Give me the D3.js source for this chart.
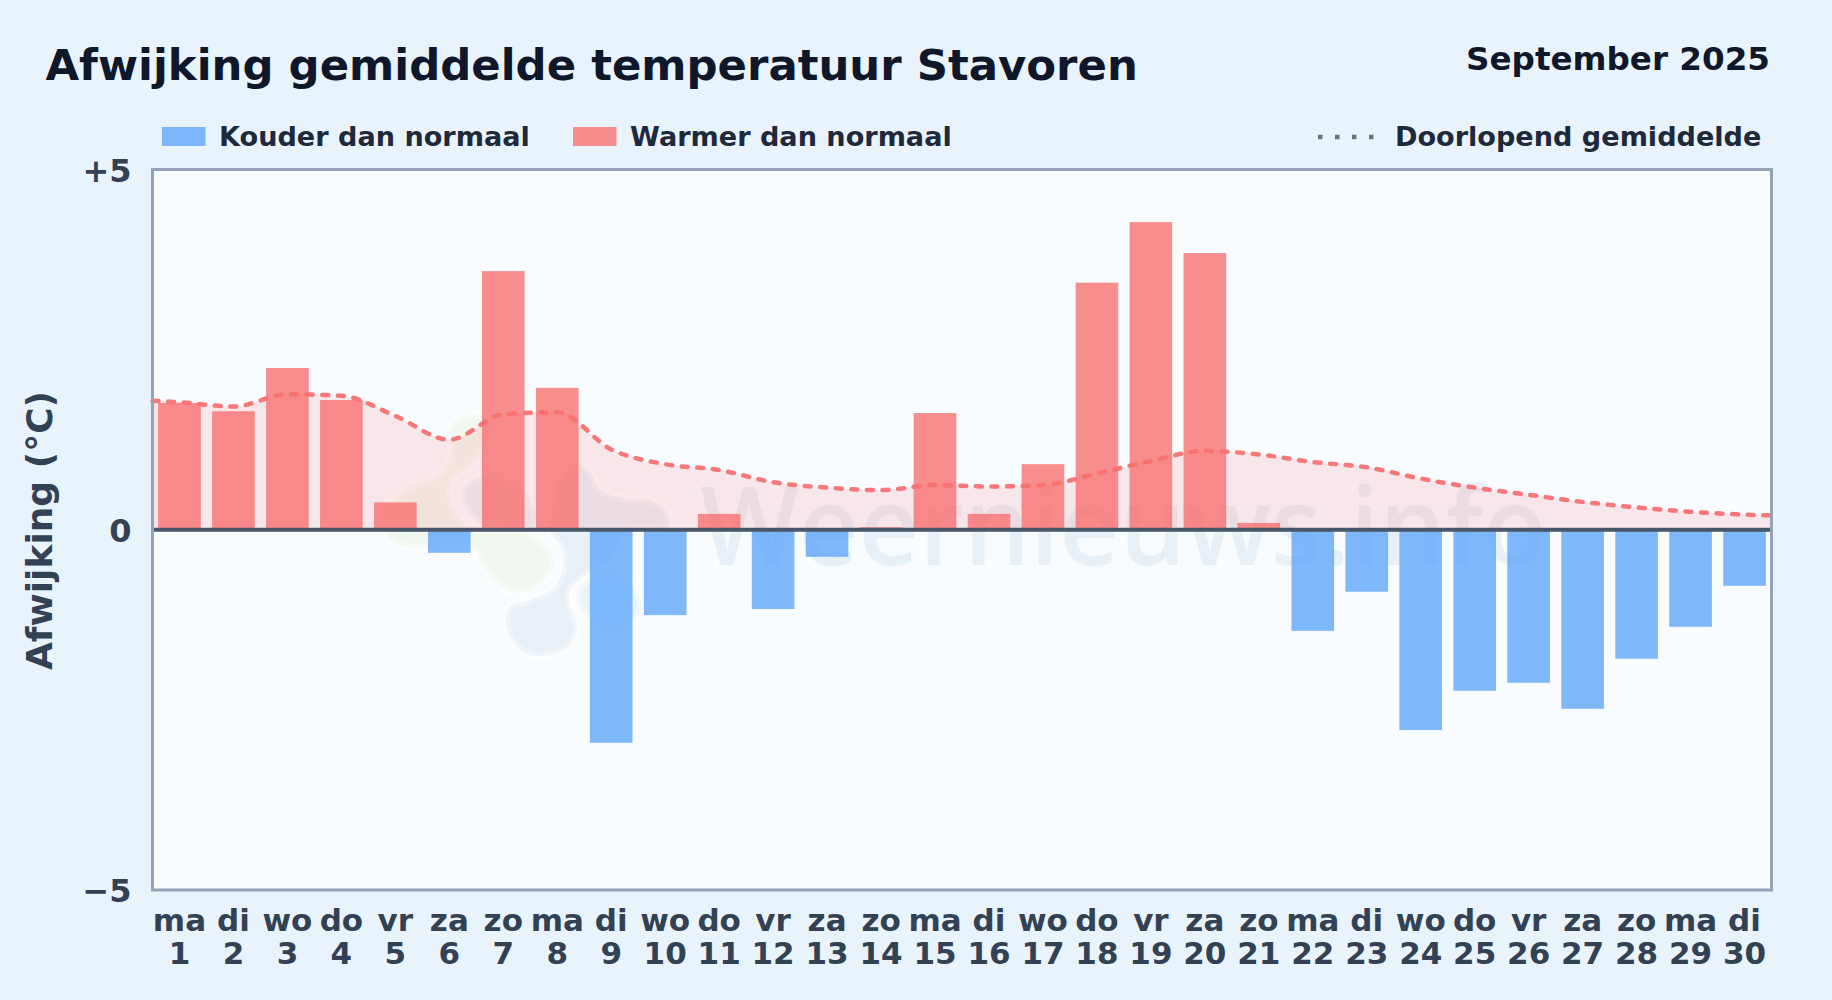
<!DOCTYPE html>
<html lang="nl">
<head>
<meta charset="utf-8">
<title>Afwijking gemiddelde temperatuur Stavoren</title>
<script src="https://cdn.jsdelivr.net/npm/d3@7"></script>
<style>
  html, body { margin: 0; padding: 0; background: #e9f3fc; }
  svg { display: block; font-family: "DejaVu Sans", sans-serif; font-weight: 700; }
</style>
</head>
<body>
<div id="chart"></div>
<script>
/* ── Data ─────────────────────────────────────────────────────────────── */
const weekdays = ['ma','di','wo','do','vr','za','zo','ma','di','wo','do','vr','za','zo','ma',
                  'di','wo','do','vr','za','zo','ma','di','wo','do','vr','za','zo','ma','di'];
const days = d3.range(1, 31);
const deviation = [1.76, 1.645, 2.245, 1.80, 0.38, -0.32, 3.59, 1.97, -2.957, -1.185,
                   0.22, -1.10, -0.376, 0.035, 1.62, 0.22, 0.91, 3.43, 4.27, 3.84,
                   0.095, -1.403, -0.86, -2.78, -2.235, -2.124, -2.485, -1.79, -1.347, -0.778];
const runningMean = [1.77, 1.71, 1.88, 1.86, 1.58, 1.25, 1.60, 1.63, 1.115, 0.91,
                     0.83, 0.66, 0.585, 0.55, 0.62, 0.60, 0.62, 0.78, 0.955, 1.095,
                     1.045, 0.94, 0.867, 0.71, 0.585, 0.485, 0.387, 0.31, 0.25, 0.21];
const meanEdgeLeft = 1.79, meanEdgeRight = 0.20;
const yTicks = [-5, 0, 5];
const yTickLabels = { '-5': '\u22125', '0': '0', '5': '+5' };

/* ── Layout constants ─────────────────────────────────────────────────── */
const TW = 1832, TH = 1000;
const M = { top: 169.5, right: 60.5, bottom: 110, left: 152.5 };
const W = TW - M.left - M.right;
const H = TH - M.top - M.bottom;

const BLUE = '#60a5fa', RED = '#f87171';

const svg = d3.select('#chart').append('svg').attr('width', TW).attr('height', TH);

svg.append('rect').attr('width', TW).attr('height', TH).attr('fill', '#e9f3fc');

/* ── Scales ───────────────────────────────────────────────────────────── */
const x = d3.scaleBand().domain(days).range([0, W]).paddingInner(0.21).paddingOuter(0.105);
const xLine = d3.scaleLinear().domain([0.5, 30.5]).range([0, W]);
const y = d3.scaleLinear().domain([-5, 5]).range([H, 0]);

/* ── Headings ─────────────────────────────────────────────────────────── */
svg.append('text').attr('x', 45.5).attr('y', 79.5)
  .attr('font-size', 43.4).attr('fill', '#0f172a')
  .text('Afwijking gemiddelde temperatuur Stavoren');
svg.append('text').attr('x', 1770).attr('y', 70).attr('text-anchor', 'end')
  .attr('font-size', 32.6).attr('fill', '#0f172a')
  .text('September 2025');

/* ── Legend ───────────────────────────────────────────────────────────── */
const legendItems = [
  { label: 'Kouder dan normaal', color: BLUE, sx: 162, tx: 219 },
  { label: 'Warmer dan normaal', color: RED, sx: 573, tx: 630 }
];
legendItems.forEach(l => {
  svg.append('rect').attr('x', l.sx).attr('y', 127).attr('width', 43.5).attr('height', 19)
    .attr('fill', l.color).attr('opacity', 0.8);
  svg.append('text').attr('x', l.tx).attr('y', 146)
    .attr('font-size', 27.1).attr('fill', '#1e293b').text(l.label);
});
svg.append('line').attr('x1', 1318).attr('x2', 1376).attr('y1', 137).attr('y2', 137)
  .attr('stroke', '#64748b').attr('stroke-width', 4.5).attr('stroke-dasharray', '4.5 12.5');
svg.append('text').attr('x', 1395).attr('y', 146)
  .attr('font-size', 27.1).attr('fill', '#1e293b').text('Doorlopend gemiddelde');

/* ── Plot background and watermark (under the bars) ───────────────────── */
svg.append('rect').attr('x', M.left).attr('y', M.top).attr('width', W).attr('height', H).attr('fill', '#f8fcff');

const wm = svg.append('g').style('pointer-events', 'none');
const blob = (pts, fill) => wm.append('path')
  .attr('d', d3.line().curve(d3.curveCatmullRomClosed.alpha(0.5))(pts))
  .attr('fill', fill)
  .attr('stroke', 'rgba(255,255,255,0.4)').attr('stroke-width', 8).attr('stroke-linejoin', 'round');
blob([[450,427],[460,418],[480,415],[490,433],[470,467],[452,480],[452,503],[470,527],[527,532],[547,547],
      [554,563],[543,582],[520,593],[500,587],[483,567],[470,547],[427,548],[397,545],[383,532],[385,510],
      [407,488],[438,475],[450,457]], 'rgba(200,225,140,0.14)');
blob([[462,490],[477,478],[503,476],[523,487],[535,513],[535,528],[503,528],[480,523],[465,507]], 'rgba(30,80,150,0.07)');
blob([[575,462],[590,472],[600,490],[623,498],[650,500],[667,513],[668,530],[630,531],[610,560],[590,572],
      [570,590],[570,605],[577,627],[567,648],[542,656],[520,650],[506,625],[510,607],[530,600],[555,587],
      [563,563],[560,545],[550,532],[553,500],[560,478]], 'rgba(30,80,150,0.075)');
blob([[577,597],[590,577],[610,573],[633,587],[642,610],[627,623],[607,630],[587,617]], 'rgba(90,180,240,0.10)');
wm.append('text').attr('x', 700).attr('y', 565)
  .attr('font-family', '"Open Sans", sans-serif')
  .attr('font-size', 109).attr('font-weight', 600)
  .attr('textLength', 847).attr('lengthAdjust', 'spacingAndGlyphs')
  .attr('fill', 'rgba(30,80,150,0.075)').text('Weernieuws.info');

const root = svg.append('g').attr('transform', `translate(${M.left},${M.top})`);

// Running mean fill + line
const meanPts = [[0.5, meanEdgeLeft], ...days.map((d, i) => [d, runningMean[i]]), [30.5, meanEdgeRight]];
root.append('path')
  .attr('d', d3.area().x(d => xLine(d[0])).y0(y(0)).y1(d => y(d[1])).curve(d3.curveMonotoneX)(meanPts))
  .attr('fill', RED).attr('opacity', 0.15);

root.selectAll('.bar').data(days).join('rect')
  .attr('class', 'bar')
  .attr('x', d => x(d))
  .attr('width', x.bandwidth())
  .attr('y', (d, i) => y(Math.max(0, deviation[i])))
  .attr('height', (d, i) => Math.abs(y(deviation[i]) - y(0)))
  .attr('fill', (d, i) => deviation[i] < 0 ? BLUE : RED)
  .attr('opacity', 0.8);

root.append('path')
  .attr('d', d3.line().x(d => xLine(d[0])).y(d => y(d[1])).curve(d3.curveMonotoneX)(meanPts))
  .attr('fill', 'none').attr('stroke', RED).attr('stroke-width', 4.5)
  .attr('stroke-linecap', 'round').attr('stroke-dasharray', '6 9.6').attr('opacity', 0.95);

// Zero line + frame
root.append('line').attr('x1', 0).attr('x2', W).attr('y1', y(0)).attr('y2', y(0))
  .attr('stroke', '#475569').attr('stroke-width', 4);
root.append('rect').attr('width', W).attr('height', H)
  .attr('fill', 'none').attr('stroke', '#94a3b8').attr('stroke-width', 3);

/* ── Axes ─────────────────────────────────────────────────────────────── */
const yAxis = root.append('g')
  .call(d3.axisLeft(y).tickValues(yTicks).tickSize(0).tickPadding(21).tickFormat(d => yTickLabels[d]));
yAxis.select('.domain').remove();
yAxis.selectAll('text').attr('font-size', 32).attr('fill', '#334155').attr('dy', '0.36em')
  .attr('font-family', '"DejaVu Sans", sans-serif').attr('font-weight', 700);

const xAxis = root.append('g').attr('transform', `translate(0,${H})`)
  .call(d3.axisBottom(x).tickSize(0).tickFormat(() => ''));
xAxis.select('.domain').remove();
xAxis.selectAll('text').each(function (d, i) {
  const t = d3.select(this).attr('y', 0).attr('dy', null)
    .attr('font-size', 31).attr('fill', '#334155')
    .attr('font-family', '"DejaVu Sans", sans-serif').attr('font-weight', 700);
  t.append('tspan').attr('x', 0).attr('y', 41).text(weekdays[i]);
  t.append('tspan').attr('x', 0).attr('y', 74).text(d);
});

svg.append('text')
  .attr('transform', 'translate(52,530.5) rotate(-90)')
  .attr('text-anchor', 'middle')
  .attr('font-size', 36).attr('fill', '#334155')
  .text('Afwijking (°C)');
</script>
</body>
</html>
